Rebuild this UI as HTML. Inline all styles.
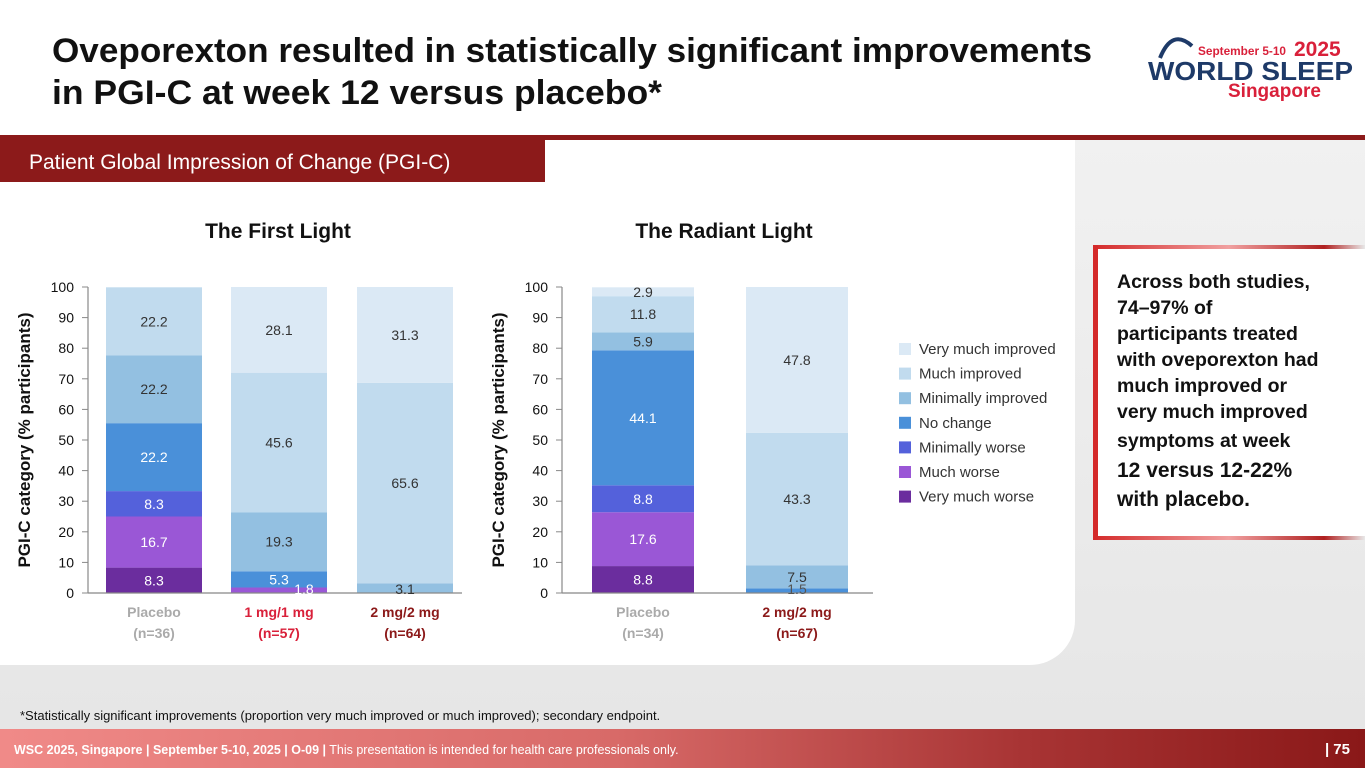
<!DOCTYPE html>
<html><head><meta charset="utf-8">
<style>
html,body{margin:0;padding:0;width:1365px;height:768px;overflow:hidden;background:#fff;font-family:"Liberation Sans",sans-serif;}
svg text{font-family:"Liberation Sans",sans-serif;}
</style></head>
<body>
<svg id="slide" width="1365" height="768" viewBox="0 0 1365 768" xmlns="http://www.w3.org/2000/svg">
<defs>
<linearGradient id="footG" x1="0" x2="1" y1="0" y2="0">
<stop offset="0" stop-color="#f08a88"/><stop offset="0.45" stop-color="#d86a68"/><stop offset="0.75" stop-color="#a83434"/><stop offset="1" stop-color="#8a1818"/></linearGradient>
<linearGradient id="bgG" x1="0" x2="0" y1="0" y2="1"><stop offset="0" stop-color="#f1f1f1"/><stop offset="1" stop-color="#e6e6e6"/></linearGradient>
<linearGradient id="boxTop" x1="0" x2="1"><stop offset="0" stop-color="#d42a2a"/><stop offset="0.5" stop-color="#f0a0a0"/><stop offset="0.85" stop-color="#b02020"/><stop offset="1" stop-color="#e8e8e8"/></linearGradient>
</defs>
<rect x="0" y="138" width="1365" height="592" fill="url(#bgG)"/>
<path d="M0 140 H1075 V620 A45 45 0 0 1 1030 665 H0 Z" fill="#fff"/>
<rect x="0" y="135" width="1365" height="5" fill="#8c1a1a"/>
<rect x="0" y="140" width="545" height="42" fill="#8c1a1a"/>
<text x="29" y="169" font-size="21" fill="#fff">Patient Global Impression of Change (PGI-C)</text>

<text x="52" y="62" font-size="34" font-weight="bold" fill="#111" textLength="1040" lengthAdjust="spacingAndGlyphs">Oveporexton resulted in statistically significant improvements</text>
<text x="52" y="104" font-size="34" font-weight="bold" fill="#111" textLength="610" lengthAdjust="spacingAndGlyphs">in PGI-C at week 12 versus placebo*</text>

<g>
<path d="M1160 58 Q1172 28 1192 46" stroke="#1e3a68" stroke-width="4" fill="none"/>
<text x="1198" y="55" font-size="12" font-weight="bold" fill="#d9203a" font-family="Liberation Serif" textLength="88" lengthAdjust="spacingAndGlyphs">September 5-10</text>
<text x="1294" y="56" font-size="21" font-weight="bold" fill="#d9203a" font-family="Liberation Serif">2025</text>
<text x="1148" y="80" font-size="26" font-weight="bold" fill="#1e3a68" textLength="205" lengthAdjust="spacingAndGlyphs">WORLD SLEEP</text>
<text x="1228" y="97" font-size="19" font-weight="bold" fill="#d9203a" font-family="Liberation Serif">Singapore</text>
</g>

<text x="278" y="238" font-size="21" font-weight="bold" fill="#111" text-anchor="middle">The First Light</text>
<text x="724" y="238" font-size="21" font-weight="bold" fill="#111" text-anchor="middle">The Radiant Light</text>

<g id="chart1"></g>
<g id="chart2"></g>
<g id="legend"></g>

<g>
<rect x="1093" y="245" width="272" height="295" fill="#fff"/>
<rect x="1093" y="245" width="272" height="4" fill="url(#boxTop)"/>
<rect x="1093" y="536" width="272" height="4" fill="url(#boxTop)"/>
<rect x="1093" y="245" width="5" height="295" fill="#d42a2a"/>
<g font-size="19.5" font-weight="bold" fill="#111">
<text x="1117" y="288">Across both studies,</text>
<text x="1117" y="314">74–97% of</text>
<text x="1117" y="340">participants treated</text>
<text x="1117" y="366">with oveporexton had</text>
<text x="1117" y="392">much improved or</text>
<text x="1117" y="418">very much improved</text>
<text x="1117" y="447">symptoms at week</text>
<text x="1117" y="477" font-size="21">12 versus 12-22%</text>
<text x="1117" y="506" font-size="21">with placebo.</text>
</g>
</g>

<text x="20" y="720" font-size="13" fill="#111">*Statistically significant improvements (proportion very much improved or much improved); secondary endpoint.</text>

<rect x="0" y="729" width="1365" height="39" fill="url(#footG)"/>
<text x="14" y="754" font-size="12.5" fill="#fff"><tspan font-weight="bold">WSC 2025, Singapore  |  September 5-10, 2025  |  O-09  |</tspan> This presentation is intended for health care professionals only.</text>
<text x="1350" y="754" font-size="15" font-weight="bold" fill="#fff" text-anchor="end">| 75</text>
</svg>

<script>
const seriesNames = ["Very much worse","Much worse","Minimally worse","No change","Minimally improved","Much improved","Very much improved"];
const seriesColors = ["#6b2d9e","#9a57d6","#5461db","#4a90d9","#93c0e1","#c1dbee","#dbe9f5"];
const labelColors = ["#fff","#fff","#fff","#fff","#333","#333","#333"];
const yTicks = [0,10,20,30,40,50,60,70,80,90,100];

const fl_categories = ["Placebo","1 mg/1 mg","2 mg/2 mg"];
const fl_n = ["(n=36)","(n=57)","(n=64)"];
const fl_catColors = ["#aaaaaa","#d9203a","#8c1a1a"];
const fl_placebo = [8.3,16.7,8.3,22.2,22.2,22.2,0];
const fl_1mg = [0,1.8,0,5.3,19.3,45.6,28.1];
const fl_2mg = [0,0,0,0,3.1,65.6,31.3];

const rl_categories = ["Placebo","2 mg/2 mg"];
const rl_n = ["(n=34)","(n=67)"];
const rl_catColors = ["#aaaaaa","#8c1a1a"];
const rl_placebo = [8.8,17.6,8.8,44.1,5.9,11.8,2.9];
const rl_2mg = [0,0,0,1.5,7.5,43.3,47.8];

const NS="http://www.w3.org/2000/svg";
function mk(tag,attrs,parent,txt){const e=document.createElementNS(NS,tag);for(const k in attrs)e.setAttribute(k,attrs[k]);if(txt!==undefined)e.textContent=txt;parent.appendChild(e);return e;}

function drawChart(g,cfg){
  const y0=593,y100=287;
  const ys=v=>y0-(v/100)*(y0-y100);
  const t=mk('text',{x:0,y:0,transform:`translate(${cfg.axX-58},${(y0+y100)/2}) rotate(-90)`,'font-size':17,'font-weight':'bold',fill:'#111','text-anchor':'middle'},g,'PGI-C category (% participants)');
  
  
  yTicks.forEach(v=>{
    const tl=mk('text',{x:cfg.axX-14,y:ys(v)+5,'font-size':14,fill:'#111','text-anchor':'end'},g,String(v));
    
    
    const tk=mk('line',{x1:cfg.axX-6,x2:cfg.axX,y1:ys(v),y2:ys(v),stroke:'#888','stroke-width':1},g);
    
    
  });
  const labels=[];
  cfg.data.forEach((vals,bi)=>{
    const bx=cfg.barX[bi];
    let cum=0;
    vals.forEach((v,si)=>{
      const top=Math.min(100,cum+v);
      if(v>0){
        const r=mk('rect',{x:bx,y:ys(top),width:cfg.bw,height:ys(cum)-ys(top),fill:seriesColors[si]},g);
        
        
        let lx=bx+cfg.bw/2, ly=(ys(cum)+ys(top))/2+5, col=labelColors[si];
        if(v<4){ly=ys(cum)+1;}
        if(v<2.5){ if(si<3){lx=bx+cfg.bw*0.76; col='#fff';} else col='#555'; }
        labels.push({x:lx,y:ly,c:col,t:v.toFixed(1)});
      }
      cum+=v;
    });
    const c1=mk('text',{x:bx+cfg.bw/2,y:617,'font-size':14,'font-weight':'bold',fill:cfg.catColors[bi],'text-anchor':'middle'},g,cfg.cats[bi]);
    
    
    const c2=mk('text',{x:bx+cfg.bw/2,y:638,'font-size':14,'font-weight':'bold',fill:cfg.catColors[bi],'text-anchor':'middle'},g,cfg.ns[bi]);
    
    
  });
  const ya=mk('line',{x1:cfg.axX,x2:cfg.axX,y1:y100,y2:y0,stroke:'#888','stroke-width':1.2},g);
  
  
  const xa=mk('line',{x1:cfg.axX,x2:cfg.axEnd,y1:y0,y2:y0,stroke:'#888','stroke-width':1.2},g);
  
  
  labels.forEach(L=>{
    const lab=mk('text',{x:L.x,y:L.y,'font-size':14,fill:L.c,'text-anchor':'middle'},g,L.t);
    
    
  });
}

drawChart(document.getElementById('chart1'),{axX:88,axEnd:462,bw:96,barX:[106,231,357],data:[fl_placebo,fl_1mg,fl_2mg],cats:fl_categories,ns:fl_n,catColors:fl_catColors});
drawChart(document.getElementById('chart2'),{axX:562,axEnd:873,bw:102,barX:[592,746],data:[rl_placebo,rl_2mg],cats:rl_categories,ns:rl_n,catColors:rl_catColors});

const lg=document.getElementById('legend');
for(let i=0;i<7;i++){
  const si=6-i, y=343+i*24.6;
  const sw=mk('rect',{x:899,y:y,width:12,height:12,fill:seriesColors[si]},lg);
  
  
  const tx=mk('text',{x:919,y:y+11,'font-size':15,fill:'#333'},lg,seriesNames[si]);
  
  
}
</script>
</body></html>
